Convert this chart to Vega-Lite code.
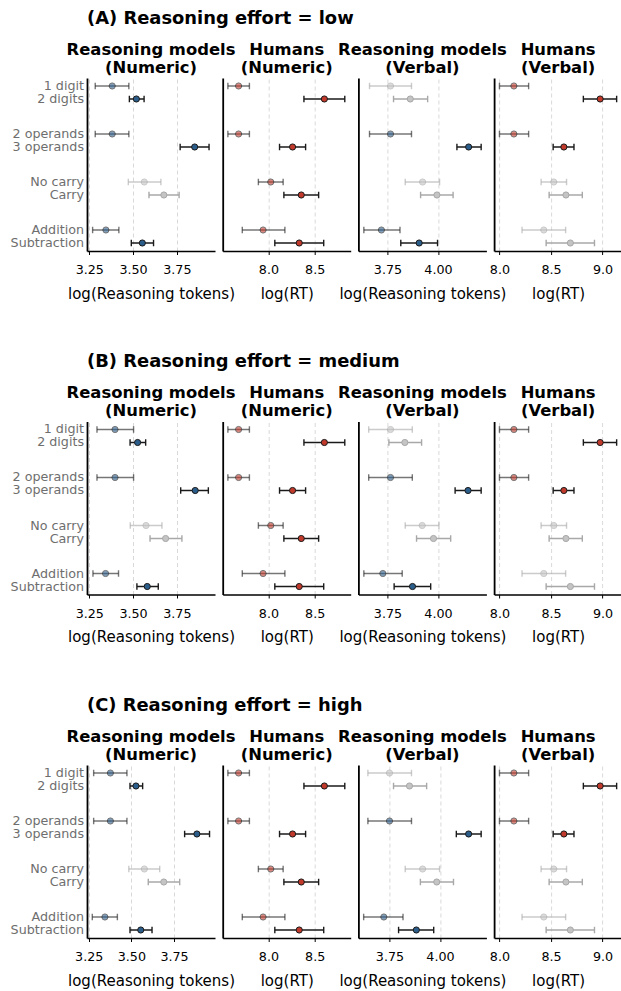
{
  "$schema": "https://vega.github.io/schema/vega-lite/v6.json",
  "padding": {"left": 10, "top": 9, "right": 0, "bottom": 0},
  "autosize": {"type": "pad"},
  "data": {"values": [
    {"e":"low","p":"MN","a":"model","g":"1 digit|2 digits","l":1,"s":1,"m":3.381,"lo":3.284,"hi":3.476},
    {"e":"low","p":"MN","a":"model","g":"1 digit|2 digits","l":2,"s":1,"m":3.519,"lo":3.479,"hi":3.563},
    {"e":"low","p":"MN","a":"model","g":"2 operands|3 operands","l":1,"s":1,"m":3.381,"lo":3.284,"hi":3.476},
    {"e":"low","p":"MN","a":"model","g":"2 operands|3 operands","l":2,"s":1,"m":3.852,"lo":3.769,"hi":3.934},
    {"e":"low","p":"MN","a":"model","g":"No carry|Carry","l":1,"s":0,"m":3.564,"lo":3.473,"hi":3.659},
    {"e":"low","p":"MN","a":"model","g":"No carry|Carry","l":2,"s":0,"m":3.676,"lo":3.591,"hi":3.763},
    {"e":"low","p":"MN","a":"model","g":"Addition|Subtraction","l":1,"s":1,"m":3.345,"lo":3.269,"hi":3.419},
    {"e":"low","p":"MN","a":"model","g":"Addition|Subtraction","l":2,"s":1,"m":3.553,"lo":3.49,"hi":3.617},
    {"e":"medium","p":"MN","a":"model","g":"1 digit|2 digits","l":1,"s":1,"m":3.397,"lo":3.294,"hi":3.503},
    {"e":"medium","p":"MN","a":"model","g":"1 digit|2 digits","l":2,"s":1,"m":3.526,"lo":3.483,"hi":3.572},
    {"e":"medium","p":"MN","a":"model","g":"2 operands|3 operands","l":1,"s":1,"m":3.397,"lo":3.294,"hi":3.503},
    {"e":"medium","p":"MN","a":"model","g":"2 operands|3 operands","l":2,"s":1,"m":3.855,"lo":3.772,"hi":3.93},
    {"e":"medium","p":"MN","a":"model","g":"No carry|Carry","l":1,"s":0,"m":3.574,"lo":3.484,"hi":3.665},
    {"e":"medium","p":"MN","a":"model","g":"No carry|Carry","l":2,"s":0,"m":3.686,"lo":3.597,"hi":3.779},
    {"e":"medium","p":"MN","a":"model","g":"Addition|Subtraction","l":1,"s":1,"m":3.343,"lo":3.271,"hi":3.417},
    {"e":"medium","p":"MN","a":"model","g":"Addition|Subtraction","l":2,"s":1,"m":3.581,"lo":3.522,"hi":3.644},
    {"e":"high","p":"MN","a":"model","g":"1 digit|2 digits","l":1,"s":1,"m":3.377,"lo":3.279,"hi":3.474},
    {"e":"high","p":"MN","a":"model","g":"1 digit|2 digits","l":2,"s":1,"m":3.527,"lo":3.492,"hi":3.566},
    {"e":"high","p":"MN","a":"model","g":"2 operands|3 operands","l":1,"s":1,"m":3.377,"lo":3.279,"hi":3.474},
    {"e":"high","p":"MN","a":"model","g":"2 operands|3 operands","l":2,"s":1,"m":3.884,"lo":3.812,"hi":3.958},
    {"e":"high","p":"MN","a":"model","g":"No carry|Carry","l":1,"s":0,"m":3.576,"lo":3.485,"hi":3.666},
    {"e":"high","p":"MN","a":"model","g":"No carry|Carry","l":2,"s":0,"m":3.69,"lo":3.599,"hi":3.783},
    {"e":"high","p":"MN","a":"model","g":"Addition|Subtraction","l":1,"s":1,"m":3.345,"lo":3.271,"hi":3.418},
    {"e":"high","p":"MN","a":"model","g":"Addition|Subtraction","l":2,"s":1,"m":3.555,"lo":3.492,"hi":3.621},
    {"e":"all","p":"HN","a":"human","g":"1 digit|2 digits","l":1,"s":1,"m":7.677,"lo":7.561,"hi":7.794},
    {"e":"all","p":"HN","a":"human","g":"1 digit|2 digits","l":2,"s":1,"m":8.605,"lo":8.384,"hi":8.826},
    {"e":"all","p":"HN","a":"human","g":"2 operands|3 operands","l":1,"s":1,"m":7.677,"lo":7.561,"hi":7.794},
    {"e":"all","p":"HN","a":"human","g":"2 operands|3 operands","l":2,"s":1,"m":8.261,"lo":8.12,"hi":8.402},
    {"e":"all","p":"HN","a":"human","g":"No carry|Carry","l":1,"s":1,"m":8.025,"lo":7.891,"hi":8.159},
    {"e":"all","p":"HN","a":"human","g":"No carry|Carry","l":2,"s":1,"m":8.355,"lo":8.167,"hi":8.543},
    {"e":"all","p":"HN","a":"human","g":"Addition|Subtraction","l":1,"s":1,"m":7.942,"lo":7.717,"hi":8.178},
    {"e":"all","p":"HN","a":"human","g":"Addition|Subtraction","l":2,"s":1,"m":8.333,"lo":8.069,"hi":8.598},
    {"e":"low","p":"MV","a":"model","g":"1 digit|2 digits","l":1,"s":0,"m":3.765,"lo":3.661,"hi":3.869},
    {"e":"low","p":"MV","a":"model","g":"1 digit|2 digits","l":2,"s":0,"m":3.863,"lo":3.78,"hi":3.949},
    {"e":"low","p":"MV","a":"model","g":"2 operands|3 operands","l":1,"s":1,"m":3.765,"lo":3.661,"hi":3.869},
    {"e":"low","p":"MV","a":"model","g":"2 operands|3 operands","l":2,"s":1,"m":4.152,"lo":4.094,"hi":4.214},
    {"e":"low","p":"MV","a":"model","g":"No carry|Carry","l":1,"s":0,"m":3.924,"lo":3.838,"hi":4.008},
    {"e":"low","p":"MV","a":"model","g":"No carry|Carry","l":2,"s":0,"m":3.995,"lo":3.914,"hi":4.075},
    {"e":"low","p":"MV","a":"model","g":"Addition|Subtraction","l":1,"s":1,"m":3.72,"lo":3.633,"hi":3.812},
    {"e":"low","p":"MV","a":"model","g":"Addition|Subtraction","l":2,"s":1,"m":3.907,"lo":3.816,"hi":3.998},
    {"e":"medium","p":"MV","a":"model","g":"1 digit|2 digits","l":1,"s":0,"m":3.765,"lo":3.657,"hi":3.873},
    {"e":"medium","p":"MV","a":"model","g":"1 digit|2 digits","l":2,"s":0,"m":3.836,"lo":3.757,"hi":3.919},
    {"e":"medium","p":"MV","a":"model","g":"2 operands|3 operands","l":1,"s":1,"m":3.765,"lo":3.657,"hi":3.873},
    {"e":"medium","p":"MV","a":"model","g":"2 operands|3 operands","l":2,"s":1,"m":4.149,"lo":4.085,"hi":4.214},
    {"e":"medium","p":"MV","a":"model","g":"No carry|Carry","l":1,"s":0,"m":3.922,"lo":3.838,"hi":4.005},
    {"e":"medium","p":"MV","a":"model","g":"No carry|Carry","l":2,"s":0,"m":3.978,"lo":3.894,"hi":4.063},
    {"e":"medium","p":"MV","a":"model","g":"Addition|Subtraction","l":1,"s":1,"m":3.727,"lo":3.633,"hi":3.823},
    {"e":"medium","p":"MV","a":"model","g":"Addition|Subtraction","l":2,"s":1,"m":3.874,"lo":3.783,"hi":3.964},
    {"e":"high","p":"MV","a":"model","g":"1 digit|2 digits","l":1,"s":0,"m":3.75,"lo":3.643,"hi":3.859},
    {"e":"high","p":"MV","a":"model","g":"1 digit|2 digits","l":2,"s":0,"m":3.849,"lo":3.77,"hi":3.934},
    {"e":"high","p":"MV","a":"model","g":"2 operands|3 operands","l":1,"s":1,"m":3.75,"lo":3.643,"hi":3.859},
    {"e":"high","p":"MV","a":"model","g":"2 operands|3 operands","l":2,"s":1,"m":4.142,"lo":4.081,"hi":4.204},
    {"e":"high","p":"MV","a":"model","g":"No carry|Carry","l":1,"s":0,"m":3.914,"lo":3.828,"hi":3.998},
    {"e":"high","p":"MV","a":"model","g":"No carry|Carry","l":2,"s":0,"m":3.984,"lo":3.903,"hi":4.067},
    {"e":"high","p":"MV","a":"model","g":"Addition|Subtraction","l":1,"s":1,"m":3.722,"lo":3.622,"hi":3.817},
    {"e":"high","p":"MV","a":"model","g":"Addition|Subtraction","l":2,"s":1,"m":3.883,"lo":3.795,"hi":3.969},
    {"e":"all","p":"HV","a":"human","g":"1 digit|2 digits","l":1,"s":1,"m":8.14,"lo":8.0,"hi":8.283},
    {"e":"all","p":"HV","a":"human","g":"1 digit|2 digits","l":2,"s":1,"m":8.977,"lo":8.814,"hi":9.137},
    {"e":"all","p":"HV","a":"human","g":"2 operands|3 operands","l":1,"s":1,"m":8.14,"lo":8.0,"hi":8.283},
    {"e":"all","p":"HV","a":"human","g":"2 operands|3 operands","l":2,"s":1,"m":8.625,"lo":8.521,"hi":8.723},
    {"e":"all","p":"HV","a":"human","g":"No carry|Carry","l":1,"s":0,"m":8.527,"lo":8.404,"hi":8.651},
    {"e":"all","p":"HV","a":"human","g":"No carry|Carry","l":2,"s":0,"m":8.645,"lo":8.482,"hi":8.804},
    {"e":"all","p":"HV","a":"human","g":"Addition|Subtraction","l":1,"s":0,"m":8.43,"lo":8.219,"hi":8.642},
    {"e":"all","p":"HV","a":"human","g":"Addition|Subtraction","l":2,"s":0,"m":8.688,"lo":8.453,"hi":8.922}
  ]},
  "spacing": 50.5,
  "vconcat": [
    {
      "title": {"text": "(A) Reasoning effort = low", "anchor": "start", "frame": "group", "fontSize": 17.9, "fontWeight": "bold", "offset": 14},
      "bounds": "flush", "spacing": 7.7,
      "hconcat": [
        {"width": 128, "height": 173, "title": {"text": ["Reasoning models", "(Numeric)"]},
         "transform": [{"filter": "datum.e == 'low' && datum.p == 'MN'"}],
         "encoding": {"y": {"field": "g", "type": "nominal", "sort": ["1 digit|2 digits","2 operands|3 operands","No carry|Carry","Addition|Subtraction"], "scale": {"paddingInner": 0.396, "paddingOuter": 0}, "axis": {"title": null, "labelExpr": "split(datum.label, '|')", "labelOffset": -6.5}},
           "yOffset": {"field": "l", "type": "ordinal", "scale": {"paddingInner": 0, "paddingOuter": 0.115}},
           "opacity": {"condition": {"test": "datum.l == 1", "value": 0.6}, "value": 1}},
         "layer": [
           {"mark": {"type": "rule", "strokeWidth": 1.5}, "encoding": {"x": {"field": "lo", "type": "quantitative", "scale": {"domain": [3.237, 3.968], "nice": false, "zero": false}, "axis": {"title": "log(Reasoning tokens)", "values": [3.25, 3.5, 3.75], "format": ".2f"}}, "x2": {"field": "hi"}, "color": {"condition": {"test": "datum.s == 1", "value": "#1a1a1a"}, "value": "#a8a8a8"}}},
           {"mark": {"type": "tick", "orient": "vertical", "size": 6.5, "thickness": 1.4}, "encoding": {"x": {"field": "lo", "type": "quantitative", "scale": {"domain": [3.237, 3.968], "nice": false, "zero": false}, "axis": {"title": "log(Reasoning tokens)", "values": [3.25, 3.5, 3.75], "format": ".2f"}}, "color": {"condition": {"test": "datum.s == 1", "value": "#1a1a1a"}, "value": "#a8a8a8"}}},
           {"mark": {"type": "tick", "orient": "vertical", "size": 6.5, "thickness": 1.4}, "encoding": {"x": {"field": "hi", "type": "quantitative", "scale": {"domain": [3.237, 3.968], "nice": false, "zero": false}, "axis": {"title": "log(Reasoning tokens)", "values": [3.25, 3.5, 3.75], "format": ".2f"}}, "color": {"condition": {"test": "datum.s == 1", "value": "#1a1a1a"}, "value": "#a8a8a8"}}},
           {"mark": {"type": "circle", "size": 38, "strokeWidth": 1}, "encoding": {"x": {"field": "m", "type": "quantitative", "scale": {"domain": [3.237, 3.968], "nice": false, "zero": false}, "axis": {"title": "log(Reasoning tokens)", "values": [3.25, 3.5, 3.75], "format": ".2f"}}, "fill": {"condition": {"test": "datum.s == 1", "field": "a", "type": "nominal", "scale": {"domain": ["model", "human"], "range": ["#2b5d8b", "#c0392b"]}, "legend": null}, "value": "#c4c4c4"}, "stroke": {"condition": {"test": "datum.s == 1", "value": "#1a1a1a"}, "value": "#a8a8a8"}}}
         ]},
        {"width": 128, "height": 173, "title": {"text": ["Humans", "(Numeric)"]},
         "transform": [{"filter": "datum.p == 'HN'"}],
         "encoding": {"y": {"field": "g", "type": "nominal", "sort": ["1 digit|2 digits","2 operands|3 operands","No carry|Carry","Addition|Subtraction"], "scale": {"paddingInner": 0.396, "paddingOuter": 0}, "axis": {"title": null, "labels": false}},
           "yOffset": {"field": "l", "type": "ordinal", "scale": {"paddingInner": 0, "paddingOuter": 0.115}},
           "opacity": {"condition": {"test": "datum.l == 1", "value": 0.6}, "value": 1}},
         "layer": [
           {"mark": {"type": "rule", "strokeWidth": 1.5}, "encoding": {"x": {"field": "lo", "type": "quantitative", "scale": {"domain": [7.505, 8.89], "nice": false, "zero": false}, "axis": {"title": "log(RT)", "values": [8.0, 8.5], "format": ".1f"}}, "x2": {"field": "hi"}, "color": {"condition": {"test": "datum.s == 1", "value": "#1a1a1a"}, "value": "#a8a8a8"}}},
           {"mark": {"type": "tick", "orient": "vertical", "size": 6.5, "thickness": 1.4}, "encoding": {"x": {"field": "lo", "type": "quantitative", "scale": {"domain": [7.505, 8.89], "nice": false, "zero": false}, "axis": {"title": "log(RT)", "values": [8.0, 8.5], "format": ".1f"}}, "color": {"condition": {"test": "datum.s == 1", "value": "#1a1a1a"}, "value": "#a8a8a8"}}},
           {"mark": {"type": "tick", "orient": "vertical", "size": 6.5, "thickness": 1.4}, "encoding": {"x": {"field": "hi", "type": "quantitative", "scale": {"domain": [7.505, 8.89], "nice": false, "zero": false}, "axis": {"title": "log(RT)", "values": [8.0, 8.5], "format": ".1f"}}, "color": {"condition": {"test": "datum.s == 1", "value": "#1a1a1a"}, "value": "#a8a8a8"}}},
           {"mark": {"type": "circle", "size": 38, "strokeWidth": 1}, "encoding": {"x": {"field": "m", "type": "quantitative", "scale": {"domain": [7.505, 8.89], "nice": false, "zero": false}, "axis": {"title": "log(RT)", "values": [8.0, 8.5], "format": ".1f"}}, "fill": {"condition": {"test": "datum.s == 1", "field": "a", "type": "nominal", "scale": {"domain": ["model", "human"], "range": ["#2b5d8b", "#c0392b"]}, "legend": null}, "value": "#c4c4c4"}, "stroke": {"condition": {"test": "datum.s == 1", "value": "#1a1a1a"}, "value": "#a8a8a8"}}}
         ]},
        {"width": 128, "height": 173, "title": {"text": ["Reasoning models", "(Verbal)"]},
         "transform": [{"filter": "datum.e == 'low' && datum.p == 'MV'"}],
         "encoding": {"y": {"field": "g", "type": "nominal", "sort": ["1 digit|2 digits","2 operands|3 operands","No carry|Carry","Addition|Subtraction"], "scale": {"paddingInner": 0.396, "paddingOuter": 0}, "axis": {"title": null, "labels": false}},
           "yOffset": {"field": "l", "type": "ordinal", "scale": {"paddingInner": 0, "paddingOuter": 0.115}},
           "opacity": {"condition": {"test": "datum.l == 1", "value": 0.6}, "value": 1}},
         "layer": [
           {"mark": {"type": "rule", "strokeWidth": 1.5}, "encoding": {"x": {"field": "lo", "type": "quantitative", "scale": {"domain": [3.606, 4.24], "nice": false, "zero": false}, "axis": {"title": "log(Reasoning tokens)", "values": [3.75, 4.0], "format": ".2f"}}, "x2": {"field": "hi"}, "color": {"condition": {"test": "datum.s == 1", "value": "#1a1a1a"}, "value": "#a8a8a8"}}},
           {"mark": {"type": "tick", "orient": "vertical", "size": 6.5, "thickness": 1.4}, "encoding": {"x": {"field": "lo", "type": "quantitative", "scale": {"domain": [3.606, 4.24], "nice": false, "zero": false}, "axis": {"title": "log(Reasoning tokens)", "values": [3.75, 4.0], "format": ".2f"}}, "color": {"condition": {"test": "datum.s == 1", "value": "#1a1a1a"}, "value": "#a8a8a8"}}},
           {"mark": {"type": "tick", "orient": "vertical", "size": 6.5, "thickness": 1.4}, "encoding": {"x": {"field": "hi", "type": "quantitative", "scale": {"domain": [3.606, 4.24], "nice": false, "zero": false}, "axis": {"title": "log(Reasoning tokens)", "values": [3.75, 4.0], "format": ".2f"}}, "color": {"condition": {"test": "datum.s == 1", "value": "#1a1a1a"}, "value": "#a8a8a8"}}},
           {"mark": {"type": "circle", "size": 38, "strokeWidth": 1}, "encoding": {"x": {"field": "m", "type": "quantitative", "scale": {"domain": [3.606, 4.24], "nice": false, "zero": false}, "axis": {"title": "log(Reasoning tokens)", "values": [3.75, 4.0], "format": ".2f"}}, "fill": {"condition": {"test": "datum.s == 1", "field": "a", "type": "nominal", "scale": {"domain": ["model", "human"], "range": ["#2b5d8b", "#c0392b"]}, "legend": null}, "value": "#c4c4c4"}, "stroke": {"condition": {"test": "datum.s == 1", "value": "#1a1a1a"}, "value": "#a8a8a8"}}}
         ]},
        {"width": 128, "height": 173, "title": {"text": ["Humans", "(Verbal)"]},
         "transform": [{"filter": "datum.p == 'HV'"}],
         "encoding": {"y": {"field": "g", "type": "nominal", "sort": ["1 digit|2 digits","2 operands|3 operands","No carry|Carry","Addition|Subtraction"], "scale": {"paddingInner": 0.396, "paddingOuter": 0}, "axis": {"title": null, "labels": false}},
           "yOffset": {"field": "l", "type": "ordinal", "scale": {"paddingInner": 0, "paddingOuter": 0.115}},
           "opacity": {"condition": {"test": "datum.l == 1", "value": 0.6}, "value": 1}},
         "layer": [
           {"mark": {"type": "rule", "strokeWidth": 1.5}, "encoding": {"x": {"field": "lo", "type": "quantitative", "scale": {"domain": [7.948, 9.19], "nice": false, "zero": false}, "axis": {"title": "log(RT)", "values": [8.0, 8.5, 9.0], "format": ".1f"}}, "x2": {"field": "hi"}, "color": {"condition": {"test": "datum.s == 1", "value": "#1a1a1a"}, "value": "#a8a8a8"}}},
           {"mark": {"type": "tick", "orient": "vertical", "size": 6.5, "thickness": 1.4}, "encoding": {"x": {"field": "lo", "type": "quantitative", "scale": {"domain": [7.948, 9.19], "nice": false, "zero": false}, "axis": {"title": "log(RT)", "values": [8.0, 8.5, 9.0], "format": ".1f"}}, "color": {"condition": {"test": "datum.s == 1", "value": "#1a1a1a"}, "value": "#a8a8a8"}}},
           {"mark": {"type": "tick", "orient": "vertical", "size": 6.5, "thickness": 1.4}, "encoding": {"x": {"field": "hi", "type": "quantitative", "scale": {"domain": [7.948, 9.19], "nice": false, "zero": false}, "axis": {"title": "log(RT)", "values": [8.0, 8.5, 9.0], "format": ".1f"}}, "color": {"condition": {"test": "datum.s == 1", "value": "#1a1a1a"}, "value": "#a8a8a8"}}},
           {"mark": {"type": "circle", "size": 38, "strokeWidth": 1}, "encoding": {"x": {"field": "m", "type": "quantitative", "scale": {"domain": [7.948, 9.19], "nice": false, "zero": false}, "axis": {"title": "log(RT)", "values": [8.0, 8.5, 9.0], "format": ".1f"}}, "fill": {"condition": {"test": "datum.s == 1", "field": "a", "type": "nominal", "scale": {"domain": ["model", "human"], "range": ["#2b5d8b", "#c0392b"]}, "legend": null}, "value": "#c4c4c4"}, "stroke": {"condition": {"test": "datum.s == 1", "value": "#1a1a1a"}, "value": "#a8a8a8"}}}
         ]}
      ]
    },
    {
      "title": {"text": "(B) Reasoning effort = medium", "anchor": "start", "frame": "group", "fontSize": 17.9, "fontWeight": "bold", "offset": 14},
      "bounds": "flush", "spacing": 7.7,
      "hconcat": [
        {"width": 128, "height": 173, "title": {"text": ["Reasoning models", "(Numeric)"]},
         "transform": [{"filter": "datum.e == 'medium' && datum.p == 'MN'"}],
         "encoding": {"y": {"field": "g", "type": "nominal", "sort": ["1 digit|2 digits","2 operands|3 operands","No carry|Carry","Addition|Subtraction"], "scale": {"paddingInner": 0.396, "paddingOuter": 0}, "axis": {"title": null, "labelExpr": "split(datum.label, '|')", "labelOffset": -6.5}},
           "yOffset": {"field": "l", "type": "ordinal", "scale": {"paddingInner": 0, "paddingOuter": 0.115}},
           "opacity": {"condition": {"test": "datum.l == 1", "value": 0.6}, "value": 1}},
         "layer": [
           {"mark": {"type": "rule", "strokeWidth": 1.5}, "encoding": {"x": {"field": "lo", "type": "quantitative", "scale": {"domain": [3.237, 3.968], "nice": false, "zero": false}, "axis": {"title": "log(Reasoning tokens)", "values": [3.25, 3.5, 3.75], "format": ".2f"}}, "x2": {"field": "hi"}, "color": {"condition": {"test": "datum.s == 1", "value": "#1a1a1a"}, "value": "#a8a8a8"}}},
           {"mark": {"type": "tick", "orient": "vertical", "size": 6.5, "thickness": 1.4}, "encoding": {"x": {"field": "lo", "type": "quantitative", "scale": {"domain": [3.237, 3.968], "nice": false, "zero": false}, "axis": {"title": "log(Reasoning tokens)", "values": [3.25, 3.5, 3.75], "format": ".2f"}}, "color": {"condition": {"test": "datum.s == 1", "value": "#1a1a1a"}, "value": "#a8a8a8"}}},
           {"mark": {"type": "tick", "orient": "vertical", "size": 6.5, "thickness": 1.4}, "encoding": {"x": {"field": "hi", "type": "quantitative", "scale": {"domain": [3.237, 3.968], "nice": false, "zero": false}, "axis": {"title": "log(Reasoning tokens)", "values": [3.25, 3.5, 3.75], "format": ".2f"}}, "color": {"condition": {"test": "datum.s == 1", "value": "#1a1a1a"}, "value": "#a8a8a8"}}},
           {"mark": {"type": "circle", "size": 38, "strokeWidth": 1}, "encoding": {"x": {"field": "m", "type": "quantitative", "scale": {"domain": [3.237, 3.968], "nice": false, "zero": false}, "axis": {"title": "log(Reasoning tokens)", "values": [3.25, 3.5, 3.75], "format": ".2f"}}, "fill": {"condition": {"test": "datum.s == 1", "field": "a", "type": "nominal", "scale": {"domain": ["model", "human"], "range": ["#2b5d8b", "#c0392b"]}, "legend": null}, "value": "#c4c4c4"}, "stroke": {"condition": {"test": "datum.s == 1", "value": "#1a1a1a"}, "value": "#a8a8a8"}}}
         ]},
        {"width": 128, "height": 173, "title": {"text": ["Humans", "(Numeric)"]},
         "transform": [{"filter": "datum.p == 'HN'"}],
         "encoding": {"y": {"field": "g", "type": "nominal", "sort": ["1 digit|2 digits","2 operands|3 operands","No carry|Carry","Addition|Subtraction"], "scale": {"paddingInner": 0.396, "paddingOuter": 0}, "axis": {"title": null, "labels": false}},
           "yOffset": {"field": "l", "type": "ordinal", "scale": {"paddingInner": 0, "paddingOuter": 0.115}},
           "opacity": {"condition": {"test": "datum.l == 1", "value": 0.6}, "value": 1}},
         "layer": [
           {"mark": {"type": "rule", "strokeWidth": 1.5}, "encoding": {"x": {"field": "lo", "type": "quantitative", "scale": {"domain": [7.505, 8.89], "nice": false, "zero": false}, "axis": {"title": "log(RT)", "values": [8.0, 8.5], "format": ".1f"}}, "x2": {"field": "hi"}, "color": {"condition": {"test": "datum.s == 1", "value": "#1a1a1a"}, "value": "#a8a8a8"}}},
           {"mark": {"type": "tick", "orient": "vertical", "size": 6.5, "thickness": 1.4}, "encoding": {"x": {"field": "lo", "type": "quantitative", "scale": {"domain": [7.505, 8.89], "nice": false, "zero": false}, "axis": {"title": "log(RT)", "values": [8.0, 8.5], "format": ".1f"}}, "color": {"condition": {"test": "datum.s == 1", "value": "#1a1a1a"}, "value": "#a8a8a8"}}},
           {"mark": {"type": "tick", "orient": "vertical", "size": 6.5, "thickness": 1.4}, "encoding": {"x": {"field": "hi", "type": "quantitative", "scale": {"domain": [7.505, 8.89], "nice": false, "zero": false}, "axis": {"title": "log(RT)", "values": [8.0, 8.5], "format": ".1f"}}, "color": {"condition": {"test": "datum.s == 1", "value": "#1a1a1a"}, "value": "#a8a8a8"}}},
           {"mark": {"type": "circle", "size": 38, "strokeWidth": 1}, "encoding": {"x": {"field": "m", "type": "quantitative", "scale": {"domain": [7.505, 8.89], "nice": false, "zero": false}, "axis": {"title": "log(RT)", "values": [8.0, 8.5], "format": ".1f"}}, "fill": {"condition": {"test": "datum.s == 1", "field": "a", "type": "nominal", "scale": {"domain": ["model", "human"], "range": ["#2b5d8b", "#c0392b"]}, "legend": null}, "value": "#c4c4c4"}, "stroke": {"condition": {"test": "datum.s == 1", "value": "#1a1a1a"}, "value": "#a8a8a8"}}}
         ]},
        {"width": 128, "height": 173, "title": {"text": ["Reasoning models", "(Verbal)"]},
         "transform": [{"filter": "datum.e == 'medium' && datum.p == 'MV'"}],
         "encoding": {"y": {"field": "g", "type": "nominal", "sort": ["1 digit|2 digits","2 operands|3 operands","No carry|Carry","Addition|Subtraction"], "scale": {"paddingInner": 0.396, "paddingOuter": 0}, "axis": {"title": null, "labels": false}},
           "yOffset": {"field": "l", "type": "ordinal", "scale": {"paddingInner": 0, "paddingOuter": 0.115}},
           "opacity": {"condition": {"test": "datum.l == 1", "value": 0.6}, "value": 1}},
         "layer": [
           {"mark": {"type": "rule", "strokeWidth": 1.5}, "encoding": {"x": {"field": "lo", "type": "quantitative", "scale": {"domain": [3.606, 4.24], "nice": false, "zero": false}, "axis": {"title": "log(Reasoning tokens)", "values": [3.75, 4.0], "format": ".2f"}}, "x2": {"field": "hi"}, "color": {"condition": {"test": "datum.s == 1", "value": "#1a1a1a"}, "value": "#a8a8a8"}}},
           {"mark": {"type": "tick", "orient": "vertical", "size": 6.5, "thickness": 1.4}, "encoding": {"x": {"field": "lo", "type": "quantitative", "scale": {"domain": [3.606, 4.24], "nice": false, "zero": false}, "axis": {"title": "log(Reasoning tokens)", "values": [3.75, 4.0], "format": ".2f"}}, "color": {"condition": {"test": "datum.s == 1", "value": "#1a1a1a"}, "value": "#a8a8a8"}}},
           {"mark": {"type": "tick", "orient": "vertical", "size": 6.5, "thickness": 1.4}, "encoding": {"x": {"field": "hi", "type": "quantitative", "scale": {"domain": [3.606, 4.24], "nice": false, "zero": false}, "axis": {"title": "log(Reasoning tokens)", "values": [3.75, 4.0], "format": ".2f"}}, "color": {"condition": {"test": "datum.s == 1", "value": "#1a1a1a"}, "value": "#a8a8a8"}}},
           {"mark": {"type": "circle", "size": 38, "strokeWidth": 1}, "encoding": {"x": {"field": "m", "type": "quantitative", "scale": {"domain": [3.606, 4.24], "nice": false, "zero": false}, "axis": {"title": "log(Reasoning tokens)", "values": [3.75, 4.0], "format": ".2f"}}, "fill": {"condition": {"test": "datum.s == 1", "field": "a", "type": "nominal", "scale": {"domain": ["model", "human"], "range": ["#2b5d8b", "#c0392b"]}, "legend": null}, "value": "#c4c4c4"}, "stroke": {"condition": {"test": "datum.s == 1", "value": "#1a1a1a"}, "value": "#a8a8a8"}}}
         ]},
        {"width": 128, "height": 173, "title": {"text": ["Humans", "(Verbal)"]},
         "transform": [{"filter": "datum.p == 'HV'"}],
         "encoding": {"y": {"field": "g", "type": "nominal", "sort": ["1 digit|2 digits","2 operands|3 operands","No carry|Carry","Addition|Subtraction"], "scale": {"paddingInner": 0.396, "paddingOuter": 0}, "axis": {"title": null, "labels": false}},
           "yOffset": {"field": "l", "type": "ordinal", "scale": {"paddingInner": 0, "paddingOuter": 0.115}},
           "opacity": {"condition": {"test": "datum.l == 1", "value": 0.6}, "value": 1}},
         "layer": [
           {"mark": {"type": "rule", "strokeWidth": 1.5}, "encoding": {"x": {"field": "lo", "type": "quantitative", "scale": {"domain": [7.948, 9.19], "nice": false, "zero": false}, "axis": {"title": "log(RT)", "values": [8.0, 8.5, 9.0], "format": ".1f"}}, "x2": {"field": "hi"}, "color": {"condition": {"test": "datum.s == 1", "value": "#1a1a1a"}, "value": "#a8a8a8"}}},
           {"mark": {"type": "tick", "orient": "vertical", "size": 6.5, "thickness": 1.4}, "encoding": {"x": {"field": "lo", "type": "quantitative", "scale": {"domain": [7.948, 9.19], "nice": false, "zero": false}, "axis": {"title": "log(RT)", "values": [8.0, 8.5, 9.0], "format": ".1f"}}, "color": {"condition": {"test": "datum.s == 1", "value": "#1a1a1a"}, "value": "#a8a8a8"}}},
           {"mark": {"type": "tick", "orient": "vertical", "size": 6.5, "thickness": 1.4}, "encoding": {"x": {"field": "hi", "type": "quantitative", "scale": {"domain": [7.948, 9.19], "nice": false, "zero": false}, "axis": {"title": "log(RT)", "values": [8.0, 8.5, 9.0], "format": ".1f"}}, "color": {"condition": {"test": "datum.s == 1", "value": "#1a1a1a"}, "value": "#a8a8a8"}}},
           {"mark": {"type": "circle", "size": 38, "strokeWidth": 1}, "encoding": {"x": {"field": "m", "type": "quantitative", "scale": {"domain": [7.948, 9.19], "nice": false, "zero": false}, "axis": {"title": "log(RT)", "values": [8.0, 8.5, 9.0], "format": ".1f"}}, "fill": {"condition": {"test": "datum.s == 1", "field": "a", "type": "nominal", "scale": {"domain": ["model", "human"], "range": ["#2b5d8b", "#c0392b"]}, "legend": null}, "value": "#c4c4c4"}, "stroke": {"condition": {"test": "datum.s == 1", "value": "#1a1a1a"}, "value": "#a8a8a8"}}}
         ]}
      ]
    },
    {
      "title": {"text": "(C) Reasoning effort = high", "anchor": "start", "frame": "group", "fontSize": 17.9, "fontWeight": "bold", "offset": 14},
      "bounds": "flush", "spacing": 7.7,
      "hconcat": [
        {"width": 128, "height": 173, "title": {"text": ["Reasoning models", "(Numeric)"]},
         "transform": [{"filter": "datum.e == 'high' && datum.p == 'MN'"}],
         "encoding": {"y": {"field": "g", "type": "nominal", "sort": ["1 digit|2 digits","2 operands|3 operands","No carry|Carry","Addition|Subtraction"], "scale": {"paddingInner": 0.396, "paddingOuter": 0}, "axis": {"title": null, "labelExpr": "split(datum.label, '|')", "labelOffset": -6.5}},
           "yOffset": {"field": "l", "type": "ordinal", "scale": {"paddingInner": 0, "paddingOuter": 0.115}},
           "opacity": {"condition": {"test": "datum.l == 1", "value": 0.6}, "value": 1}},
         "layer": [
           {"mark": {"type": "rule", "strokeWidth": 1.5}, "encoding": {"x": {"field": "lo", "type": "quantitative", "scale": {"domain": [3.24, 3.99], "nice": false, "zero": false}, "axis": {"title": "log(Reasoning tokens)", "values": [3.25, 3.5, 3.75], "format": ".2f"}}, "x2": {"field": "hi"}, "color": {"condition": {"test": "datum.s == 1", "value": "#1a1a1a"}, "value": "#a8a8a8"}}},
           {"mark": {"type": "tick", "orient": "vertical", "size": 6.5, "thickness": 1.4}, "encoding": {"x": {"field": "lo", "type": "quantitative", "scale": {"domain": [3.24, 3.99], "nice": false, "zero": false}, "axis": {"title": "log(Reasoning tokens)", "values": [3.25, 3.5, 3.75], "format": ".2f"}}, "color": {"condition": {"test": "datum.s == 1", "value": "#1a1a1a"}, "value": "#a8a8a8"}}},
           {"mark": {"type": "tick", "orient": "vertical", "size": 6.5, "thickness": 1.4}, "encoding": {"x": {"field": "hi", "type": "quantitative", "scale": {"domain": [3.24, 3.99], "nice": false, "zero": false}, "axis": {"title": "log(Reasoning tokens)", "values": [3.25, 3.5, 3.75], "format": ".2f"}}, "color": {"condition": {"test": "datum.s == 1", "value": "#1a1a1a"}, "value": "#a8a8a8"}}},
           {"mark": {"type": "circle", "size": 38, "strokeWidth": 1}, "encoding": {"x": {"field": "m", "type": "quantitative", "scale": {"domain": [3.24, 3.99], "nice": false, "zero": false}, "axis": {"title": "log(Reasoning tokens)", "values": [3.25, 3.5, 3.75], "format": ".2f"}}, "fill": {"condition": {"test": "datum.s == 1", "field": "a", "type": "nominal", "scale": {"domain": ["model", "human"], "range": ["#2b5d8b", "#c0392b"]}, "legend": null}, "value": "#c4c4c4"}, "stroke": {"condition": {"test": "datum.s == 1", "value": "#1a1a1a"}, "value": "#a8a8a8"}}}
         ]},
        {"width": 128, "height": 173, "title": {"text": ["Humans", "(Numeric)"]},
         "transform": [{"filter": "datum.p == 'HN'"}],
         "encoding": {"y": {"field": "g", "type": "nominal", "sort": ["1 digit|2 digits","2 operands|3 operands","No carry|Carry","Addition|Subtraction"], "scale": {"paddingInner": 0.396, "paddingOuter": 0}, "axis": {"title": null, "labels": false}},
           "yOffset": {"field": "l", "type": "ordinal", "scale": {"paddingInner": 0, "paddingOuter": 0.115}},
           "opacity": {"condition": {"test": "datum.l == 1", "value": 0.6}, "value": 1}},
         "layer": [
           {"mark": {"type": "rule", "strokeWidth": 1.5}, "encoding": {"x": {"field": "lo", "type": "quantitative", "scale": {"domain": [7.505, 8.89], "nice": false, "zero": false}, "axis": {"title": "log(RT)", "values": [8.0, 8.5], "format": ".1f"}}, "x2": {"field": "hi"}, "color": {"condition": {"test": "datum.s == 1", "value": "#1a1a1a"}, "value": "#a8a8a8"}}},
           {"mark": {"type": "tick", "orient": "vertical", "size": 6.5, "thickness": 1.4}, "encoding": {"x": {"field": "lo", "type": "quantitative", "scale": {"domain": [7.505, 8.89], "nice": false, "zero": false}, "axis": {"title": "log(RT)", "values": [8.0, 8.5], "format": ".1f"}}, "color": {"condition": {"test": "datum.s == 1", "value": "#1a1a1a"}, "value": "#a8a8a8"}}},
           {"mark": {"type": "tick", "orient": "vertical", "size": 6.5, "thickness": 1.4}, "encoding": {"x": {"field": "hi", "type": "quantitative", "scale": {"domain": [7.505, 8.89], "nice": false, "zero": false}, "axis": {"title": "log(RT)", "values": [8.0, 8.5], "format": ".1f"}}, "color": {"condition": {"test": "datum.s == 1", "value": "#1a1a1a"}, "value": "#a8a8a8"}}},
           {"mark": {"type": "circle", "size": 38, "strokeWidth": 1}, "encoding": {"x": {"field": "m", "type": "quantitative", "scale": {"domain": [7.505, 8.89], "nice": false, "zero": false}, "axis": {"title": "log(RT)", "values": [8.0, 8.5], "format": ".1f"}}, "fill": {"condition": {"test": "datum.s == 1", "field": "a", "type": "nominal", "scale": {"domain": ["model", "human"], "range": ["#2b5d8b", "#c0392b"]}, "legend": null}, "value": "#c4c4c4"}, "stroke": {"condition": {"test": "datum.s == 1", "value": "#1a1a1a"}, "value": "#a8a8a8"}}}
         ]},
        {"width": 128, "height": 173, "title": {"text": ["Reasoning models", "(Verbal)"]},
         "transform": [{"filter": "datum.e == 'high' && datum.p == 'MV'"}],
         "encoding": {"y": {"field": "g", "type": "nominal", "sort": ["1 digit|2 digits","2 operands|3 operands","No carry|Carry","Addition|Subtraction"], "scale": {"paddingInner": 0.396, "paddingOuter": 0}, "axis": {"title": null, "labels": false}},
           "yOffset": {"field": "l", "type": "ordinal", "scale": {"paddingInner": 0, "paddingOuter": 0.115}},
           "opacity": {"condition": {"test": "datum.l == 1", "value": 0.6}, "value": 1}},
         "layer": [
           {"mark": {"type": "rule", "strokeWidth": 1.5}, "encoding": {"x": {"field": "lo", "type": "quantitative", "scale": {"domain": [3.596, 4.23], "nice": false, "zero": false}, "axis": {"title": "log(Reasoning tokens)", "values": [3.75, 4.0], "format": ".2f"}}, "x2": {"field": "hi"}, "color": {"condition": {"test": "datum.s == 1", "value": "#1a1a1a"}, "value": "#a8a8a8"}}},
           {"mark": {"type": "tick", "orient": "vertical", "size": 6.5, "thickness": 1.4}, "encoding": {"x": {"field": "lo", "type": "quantitative", "scale": {"domain": [3.596, 4.23], "nice": false, "zero": false}, "axis": {"title": "log(Reasoning tokens)", "values": [3.75, 4.0], "format": ".2f"}}, "color": {"condition": {"test": "datum.s == 1", "value": "#1a1a1a"}, "value": "#a8a8a8"}}},
           {"mark": {"type": "tick", "orient": "vertical", "size": 6.5, "thickness": 1.4}, "encoding": {"x": {"field": "hi", "type": "quantitative", "scale": {"domain": [3.596, 4.23], "nice": false, "zero": false}, "axis": {"title": "log(Reasoning tokens)", "values": [3.75, 4.0], "format": ".2f"}}, "color": {"condition": {"test": "datum.s == 1", "value": "#1a1a1a"}, "value": "#a8a8a8"}}},
           {"mark": {"type": "circle", "size": 38, "strokeWidth": 1}, "encoding": {"x": {"field": "m", "type": "quantitative", "scale": {"domain": [3.596, 4.23], "nice": false, "zero": false}, "axis": {"title": "log(Reasoning tokens)", "values": [3.75, 4.0], "format": ".2f"}}, "fill": {"condition": {"test": "datum.s == 1", "field": "a", "type": "nominal", "scale": {"domain": ["model", "human"], "range": ["#2b5d8b", "#c0392b"]}, "legend": null}, "value": "#c4c4c4"}, "stroke": {"condition": {"test": "datum.s == 1", "value": "#1a1a1a"}, "value": "#a8a8a8"}}}
         ]},
        {"width": 128, "height": 173, "title": {"text": ["Humans", "(Verbal)"]},
         "transform": [{"filter": "datum.p == 'HV'"}],
         "encoding": {"y": {"field": "g", "type": "nominal", "sort": ["1 digit|2 digits","2 operands|3 operands","No carry|Carry","Addition|Subtraction"], "scale": {"paddingInner": 0.396, "paddingOuter": 0}, "axis": {"title": null, "labels": false}},
           "yOffset": {"field": "l", "type": "ordinal", "scale": {"paddingInner": 0, "paddingOuter": 0.115}},
           "opacity": {"condition": {"test": "datum.l == 1", "value": 0.6}, "value": 1}},
         "layer": [
           {"mark": {"type": "rule", "strokeWidth": 1.5}, "encoding": {"x": {"field": "lo", "type": "quantitative", "scale": {"domain": [7.948, 9.19], "nice": false, "zero": false}, "axis": {"title": "log(RT)", "values": [8.0, 8.5, 9.0], "format": ".1f"}}, "x2": {"field": "hi"}, "color": {"condition": {"test": "datum.s == 1", "value": "#1a1a1a"}, "value": "#a8a8a8"}}},
           {"mark": {"type": "tick", "orient": "vertical", "size": 6.5, "thickness": 1.4}, "encoding": {"x": {"field": "lo", "type": "quantitative", "scale": {"domain": [7.948, 9.19], "nice": false, "zero": false}, "axis": {"title": "log(RT)", "values": [8.0, 8.5, 9.0], "format": ".1f"}}, "color": {"condition": {"test": "datum.s == 1", "value": "#1a1a1a"}, "value": "#a8a8a8"}}},
           {"mark": {"type": "tick", "orient": "vertical", "size": 6.5, "thickness": 1.4}, "encoding": {"x": {"field": "hi", "type": "quantitative", "scale": {"domain": [7.948, 9.19], "nice": false, "zero": false}, "axis": {"title": "log(RT)", "values": [8.0, 8.5, 9.0], "format": ".1f"}}, "color": {"condition": {"test": "datum.s == 1", "value": "#1a1a1a"}, "value": "#a8a8a8"}}},
           {"mark": {"type": "circle", "size": 38, "strokeWidth": 1}, "encoding": {"x": {"field": "m", "type": "quantitative", "scale": {"domain": [7.948, 9.19], "nice": false, "zero": false}, "axis": {"title": "log(RT)", "values": [8.0, 8.5, 9.0], "format": ".1f"}}, "fill": {"condition": {"test": "datum.s == 1", "field": "a", "type": "nominal", "scale": {"domain": ["model", "human"], "range": ["#2b5d8b", "#c0392b"]}, "legend": null}, "value": "#c4c4c4"}, "stroke": {"condition": {"test": "datum.s == 1", "value": "#1a1a1a"}, "value": "#a8a8a8"}}}
         ]}
      ]
    }
  ],
  "config": {
    "font": "DejaVu Sans",
    "view": {"stroke": null},
    "title": {"fontSize": 16.4, "fontWeight": "bold", "lineHeight": 18, "offset": 2, "color": "#000"},
    "axisX": {"grid": true, "gridDash": [4, 3], "gridColor": "#cfcfcf", "gridWidth": 0.8, "tickSize": 3.5, "tickColor": "#000", "tickWidth": 1, "domainColor": "#000", "domainWidth": 1.6, "labelFontSize": 12.7, "labelColor": "#000", "labelPadding": 9, "titleFontSize": 15, "titleFontWeight": "normal", "titleColor": "#000", "titlePadding": 10, "labelFlush": false, "labelOverlap": false},
    "axisY": {"grid": false, "ticks": false, "domainColor": "#000", "domainWidth": 1.8, "labelFontSize": 12.7, "labelColor": "#6e6e6e", "labelPadding": 3.5, "labelLineHeight": 13}
  }
}
